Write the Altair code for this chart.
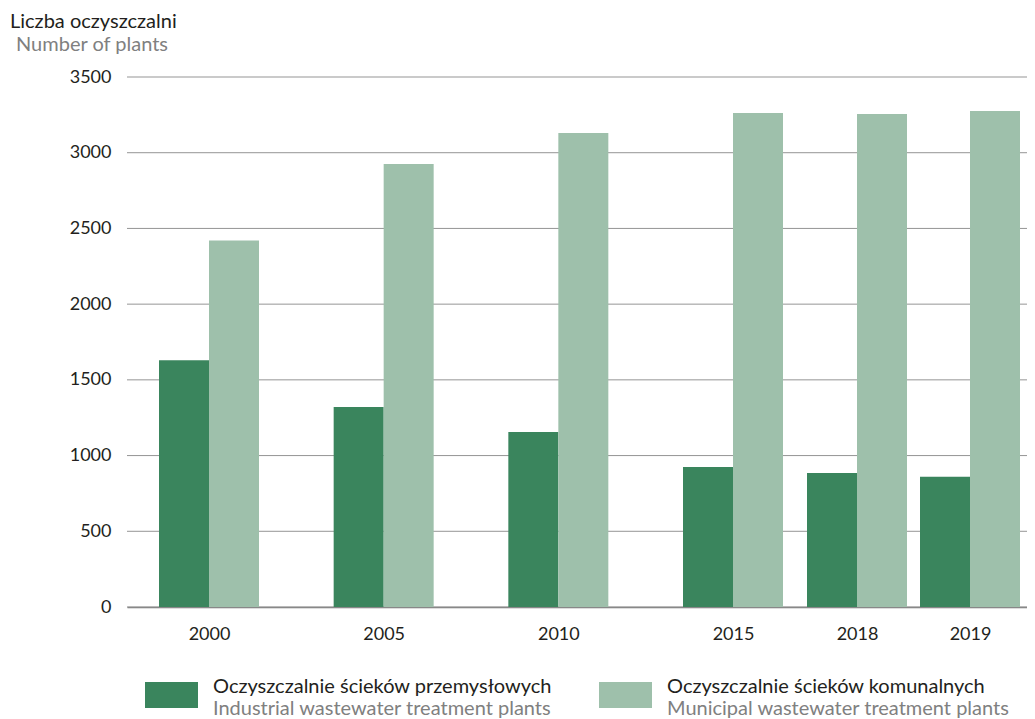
import altair as alt
import pandas as pd

years = [2000, 2005, 2010, 2015, 2018, 2019]
industrial = [1630, 1320, 1155, 925, 885, 860]
municipal = [2420, 2925, 3130, 3262, 3255, 3275]
series_pl = ["Oczyszczalnie ścieków przemysłowych", "Oczyszczalnie ścieków komunalnych"]
series_en = ["Industrial wastewater treatment plants", "Municipal wastewater treatment plants"]
colors = ["#3a855d", "#9ec0ab"]
y_ticks = [0, 500, 1000, 1500, 2000, 2500, 3000, 3500]
title_pl = "Liczba oczyszczalni"
title_en = "Number of plants"

df = pd.DataFrame({
    "year": years + years,
    "value": industrial + municipal,
    "series": [series_pl[0]] * len(years) + [series_pl[1]] * len(years),
})
grid_df = pd.DataFrame({"value": y_ticks})

FONT = "Lato"
TXT = 20
W, H = 900, 530
LEFT, TOP = 119, 69

# uneven spacing of the category axis, as in the original figure
x_scale = alt.Scale(domain=[1997.653, 2000, 2015, 2018, 2019, 2019.504],
                    range=[0, 82, 606, 730, 843, W], zero=False, nice=False, padding=0)
y_scale = alt.Scale(domain=[0, 3500], nice=False, zero=True)

x_enc = alt.X("year:Q", scale=x_scale,
              axis=alt.Axis(values=years, format="d", title=None, grid=False, ticks=False,
                            domain=True, domainColor="#7a7a7a", domainWidth=1.5,
                            labelFontSize=18, labelColor="#231f20", labelFont=FONT,
                            labelPadding=18, labelFlush=False))
y_axis = alt.Axis(values=y_ticks, format="d", title=None, grid=False, ticks=False,
                  domain=False, labelFontSize=18,
                  labelColor="#231f20", labelFont=FONT, labelPadding=16)
y_enc = alt.Y("value:Q", scale=y_scale, axis=y_axis)
color_enc = alt.Color("series:N", scale=alt.Scale(domain=series_pl, range=colors), legend=None)

grid = alt.Chart(grid_df).mark_rule(color="#959595", strokeWidth=1).encode(
    y=alt.Y("value:Q", scale=y_scale, axis=y_axis))

bars_ind = alt.Chart(df).transform_filter(alt.datum.series == series_pl[0]).mark_bar(
    width=50, xOffset=-25).encode(x=x_enc, y=y_enc, color=color_enc)
bars_mun = alt.Chart(df).transform_filter(alt.datum.series == series_pl[1]).mark_bar(
    width=50, xOffset=25).encode(x=x_enc, y=y_enc, color=color_enc)

layers = [grid, bars_ind, bars_mun]

# Titles (top-left)
tdf = pd.DataFrame({"pl": [title_pl], "en": [title_en]})
layers.append(alt.Chart(tdf).mark_text(align="left", baseline="alphabetic", fontSize=TXT,
                                        font=FONT, color="#231f20").encode(
    x=alt.value(10 - 8 - LEFT), y=alt.value(28 - 8 - TOP), text="pl:N"))
layers.append(alt.Chart(tdf).mark_text(align="left", baseline="alphabetic", fontSize=TXT,
                                        font=FONT, color="#808080").encode(
    x=alt.value(16 - 8 - LEFT), y=alt.value(51 - 8 - TOP), text="en:N"))

# Manual legend
swatch_x = [145, 599]
for i in range(2):
    ldf = pd.DataFrame({"pl": [series_pl[i]], "en": [series_en[i]]})
    sx = swatch_x[i] - 8 - LEFT
    layers.append(alt.Chart(ldf).mark_rect(color=colors[i]).encode(
        x=alt.value(sx), x2=alt.value(sx + 53),
        y=alt.value(682 - 8 - TOP), y2=alt.value(708 - 8 - TOP)))
    layers.append(alt.Chart(ldf).mark_text(align="left", baseline="alphabetic", fontSize=TXT,
                                            font=FONT, color="#231f20").encode(
        x=alt.value(sx + 68), y=alt.value(693 - 8 - TOP), text="pl:N"))
    layers.append(alt.Chart(ldf).mark_text(align="left", baseline="alphabetic", fontSize=TXT,
                                            font=FONT, color="#808080").encode(
        x=alt.value(sx + 68), y=alt.value(715 - 8 - TOP), text="en:N"))

chart = alt.layer(*layers).properties(
    width=W, height=H,
    background="white",
    autosize=alt.AutoSizeParams(type="none"),
    padding={"left": LEFT, "top": TOP, "right": 0, "bottom": 111},
).configure_view(strokeWidth=0, stroke="transparent")

chart.save("out.html", embed_options={"renderer": "svg", "actions": False})
